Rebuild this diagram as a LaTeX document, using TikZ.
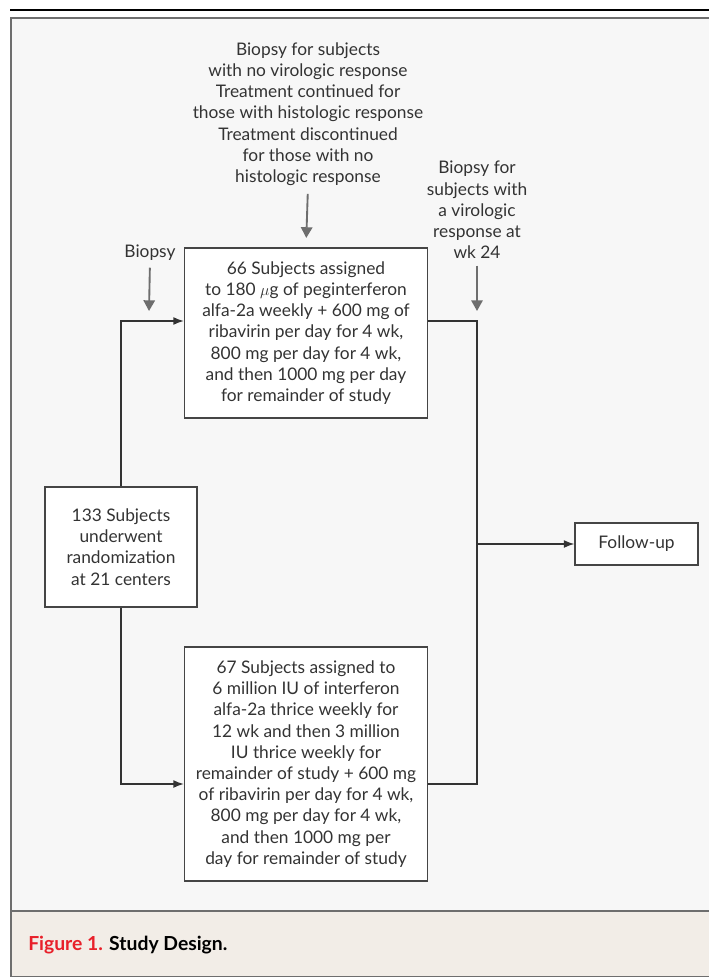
\documentclass[tikz,border=0pt]{standalone}
\usepackage{fontspec}
\setmainfont{Lato}
\usepackage{xcolor}
\usepackage{tikz}
\usetikzlibrary{arrows.meta,positioning,calc}
\definecolor{StudyInk}{HTML}{333333}
\definecolor{StudyEdge}{HTML}{454545}
\definecolor{StudyGrey}{HTML}{6E6E6E}
\definecolor{StudyPanel}{HTML}{F7F7F7}
\definecolor{StudyCap}{HTML}{F2EDE7}
\definecolor{StudyRed}{HTML}{E8202A}
\tikzset{
  txt/.style={align=center,text=StudyInk,inner sep=0pt,
    font=\fontsize{13}{15.9}\selectfont},
  arm/.style={txt,draw=StudyEdge,line width=1.1pt,fill=white,
    minimum width=182pt},
  flow/.style={-{Latex[length=8pt,width=6pt]},line width=1.1pt,draw=StudyInk},
  link/.style={line width=1.1pt,draw=StudyInk},
  notearrow/.style={-{Triangle[length=8pt,width=8.5pt]},line width=1.4pt,draw=StudyGrey}
}
\begin{document}
\begin{tikzpicture}[x=0.75pt,y=-0.75pt]
  \useasboundingbox (0,0) rectangle (709,977);
  % panel and caption
  \fill[StudyPanel] (11,18) rectangle (709,911);
  \fill[StudyCap] (11,911) rectangle (709,977);
  \draw[line width=1.5pt] (10,10) -- (709,10);
  \draw[StudyGrey,line width=1.5pt] (709,18) -- (11,18) -- (11,977) -- (709,977);
  \draw[StudyGrey,line width=1.5pt] (11,911) -- (709,911);
  \node[anchor=west,inner sep=0pt,font=\fontsize{14.5}{16}\selectfont\bfseries] (cap) at (28,945)
    {\textcolor{StudyRed}{Figure 1.} Study Design.};
  % boxes
  \node[arm,minimum height=127.5pt] (peg) at (306,333) {66 Subjects assigned\\to 180 $\mu$g of peginterferon\\alfa-2a weekly + 600 mg of\\ribavirin per day for 4 wk,\\800 mg per day for 4 wk,\\and then 1000 mg per day\\for remainder of study};
  \node[arm,minimum height=175.5pt] (ifn) at (306,764) {67 Subjects assigned to\\6 million IU of interferon\\alfa-2a thrice weekly for\\12 wk and then 3 million\\IU thrice weekly for\\remainder of study + 600 mg\\of ribavirin per day for 4 wk,\\800 mg per day for 4 wk,\\and then 1000 mg per\\day for remainder of study};
  \node[arm,minimum width=114pt,minimum height=90pt] (rand) at (121,547) {133 Subjects\\underwent\\randomization\\at 21 centers};
  \node[arm,minimum width=92pt,minimum height=31.5pt] (follow) at (636.5,544) {Follow-up};
  % notes
  \node[txt] (topnote) at (308,114) {Biopsy for subjects\\with no virologic response\\Treatment continued for\\those with histologic response\\Treatment discontinued\\for those with no\\histologic response};
  \node[txt] (lbiopsy) at (150,253) {Biopsy};
  \node[txt] (rnote) at (477,210) {Biopsy for\\subjects with\\a virologic\\response at\\wk 24};
  \coordinate (lbtip) at (149,311);
  \coordinate (rbtip) at (477,311);
  \coordinate (join) at (477,544);
  \draw[notearrow,shorten <=6pt,shorten >=7pt] (topnote.south) -- (peg.north);
  \draw[notearrow,shorten <=5pt] (lbiopsy.south) -- (lbtip);
  \draw[notearrow,shorten <=5pt] (rnote.south) -- (rbtip);
  % connectors
  \draw[flow] (rand.north) |- ([yshift=9pt]peg.west);
  \draw[flow] (rand.south) |- ([yshift=-15pt]ifn.west);
  \draw[link] ([yshift=9pt]peg.east) -| (join);
  \draw[link] ([yshift=-15pt]ifn.east) -| (join);
  \draw[flow] (join) -- (follow.west);
\end{tikzpicture}
\end{document}
